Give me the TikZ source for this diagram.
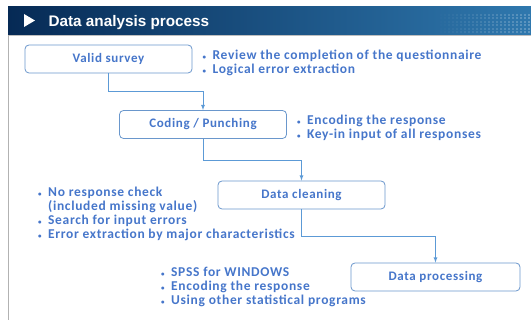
\documentclass[tikz,border=0pt]{standalone}
\usepackage{fontspec}
\setmainfont{Carlito}[LetterSpace=5]
\newfontfamily\titlefont{Liberation Sans}
\usetikzlibrary{positioning, arrows}
\definecolor{barleft}{HTML}{062A55}
\definecolor{barmid}{HTML}{0D4A82}
\definecolor{barright}{HTML}{2F78AE}
\definecolor{boxline}{HTML}{6A97CC}
\definecolor{flowline}{HTML}{5C9AD6}
\definecolor{bluetext}{HTML}{4676CA}
\newcommand{\itm}{\makebox[10pt][l]{\scriptsize\textbullet}}
\tikzset{
x=1pt, y=-1pt, % one unit is one pixel, y runs downwards
>=latex, % small filled arrow heads
stage/.style={draw=boxline, line width=0.8pt, rounded corners=4pt, minimum width=167pt, minimum height=28pt, fill=white, text=bluetext, font=\bfseries\fontsize{13}{14}\selectfont}, % the process boxes
note/.style={align=left, anchor=west, inner sep=0pt, text=bluetext, font=\bfseries\fontsize{13.5}{14}\selectfont}, % bullet lists
flow/.style={->, draw=flowline, line width=0.8pt}, % elbow connectors
}
\begin{document}
\begin{tikzpicture}
\useasboundingbox (0,0) rectangle (531,320);
% title bar
\shade[left color=barleft, middle color=barmid, right color=barright] (8,7) rectangle (531,35);
\foreach \x in {436,440,...,528}
  \foreach \y in {14,17.5,...,33}
    \fill[white, opacity={(\x-436)/400}] (\x,\y) rectangle ++(2.2,1.6);
\draw[gray!50, line width=0.8pt] (8,35.4) -- (531,35.4);
\draw[gray!60, line width=1pt] (8.5,35) -- (8.5,320);
\fill[white] (24,14) -- (35,20.5) -- (24,27) -- cycle;
\node[anchor=west, text=white, font=\titlefont\bfseries\fontsize{15.3}{17}\selectfont] (title) at (45,22.5) {Data analysis process};
% process boxes
\node[stage] (valid) at (108.5,59) {Valid survey};
\node[stage] (coding) at (203,124.5) {Coding / Punching};
\node[stage] (cleaning) at (301.5,195) {Data cleaning};
\node[stage, minimum width=169pt] (processing) at (435.5,277) {Data processing};
% notes
\node[note, right=10pt of valid, yshift=-3.5pt] (validnote) {\itm Review the completion of the questionnaire\\\itm Logical error extraction};
\node[note, right=10pt of coding, yshift=-3.5pt] (codingnote) {\itm Encoding the response\\\itm Key-in input of all responses};
\node[note] (cleaningnote) at (38,214) {\itm No response check\\\hspace*{10pt}(included missing value)\\\itm Search for input errors\\\itm Error extraction by major characteristics};
\node[note] (processingnote) at (161,287) {\itm SPSS for WINDOWS\\\itm Encoding the response\\\itm Using other statistical programs};
% connectors
\draw[flow] (valid.south) -- ++(0,18.5) -| (coding.north);
\draw[flow] (coding.south) -- ++(0,21.5) -| (cleaning.north);
\draw[flow] (cleaning.south) -- ++(0,27.5) -| (processing.north);
\end{tikzpicture}
\end{document}
